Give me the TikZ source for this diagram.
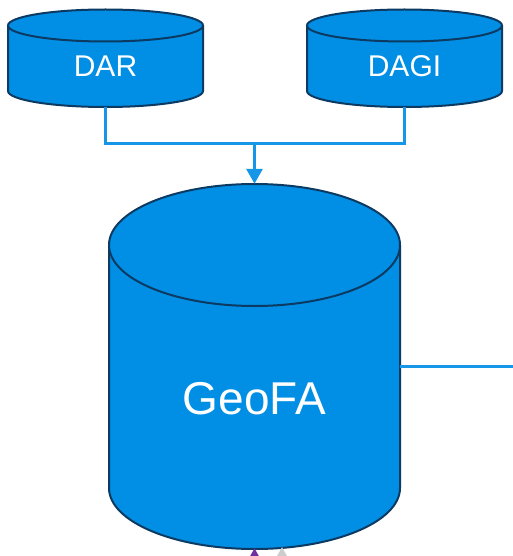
\documentclass[tikz,border=0pt]{standalone}
\usepackage{fontspec}
\setmainfont{Liberation Sans}
\usetikzlibrary{arrows.meta}
\definecolor{cylblue}{RGB}{0,143,229}
\definecolor{cylborder}{RGB}{12,58,98}
\definecolor{connblue}{RGB}{22,150,230}
\definecolor{arrpurple}{RGB}{112,48,160}
\definecolor{arrgray}{RGB}{205,205,205}
\tikzset{
  cylfill/.style={fill=cylblue},
  cylline/.style={draw=cylborder,line width=2pt},
  cylbox/.style={rectangle,inner sep=0pt,draw=none},
  cyltext/.style={text=white,inner sep=0pt},
  conn/.style={draw=connblue,line width=3pt},
  tip/.style={-{Triangle[width=16pt,length=15pt]}}
}
\newcommand\dbcyl[5]{%
  \fill[cylfill] (#1-#2,#3) rectangle (#1+#2,#4);
  \fill[cylfill] (#1,#4) ellipse[x radius=#2,y radius=#5];
  \draw[cylline] (#1-#2,#3) -- (#1-#2,#4) arc[start angle=180,end angle=0,x radius=#2,y radius=#5] -- (#1+#2,#3);
  \draw[cylline,cylfill] (#1,#3) ellipse[x radius=#2,y radius=#5];
}
\begin{document}
\begin{tikzpicture}[x=1pt,y=-1pt]
\useasboundingbox (0,0) rectangle (513,556);
\clip (0,0) rectangle (513,556);
% cylinders
\dbcyl{105.5}{97.5}{25.5}{91}{16}
\dbcyl{404.5}{97.5}{25.5}{91}{16}
\dbcyl{254.5}{145.5}{245}{488}{61}
\node[cylbox,minimum width=195pt,minimum height=97pt] (dar) at (105.5,58.5) {};
\node[cylbox,minimum width=195pt,minimum height=97pt] (dagi) at (404.5,58.5) {};
\node[cylbox,minimum width=291pt,minimum height=364pt] (geo) at (254.5,366) {};
\node[cyltext,font=\fontsize{30}{36}\selectfont] (dart) at (105.5,66.5) {DAR};
\node[cyltext,font=\fontsize{30}{36}\selectfont] (dagit) at (404.5,66.5) {DAGI};
\node[cyltext,font=\fontsize{46}{55}\selectfont] (geot) at (254.5,398.5) {GeoFA};
% connectors
\coordinate (join) at (254.5,144);
\coordinate (rightend) at (513,366);
\coordinate (purplefrom) at (254.5,600);
\coordinate (grayfrom) at (282,600);
\coordinate (graytip) at (282,547);
\draw[conn] (dar.south) |- (join);
\draw[conn] (dagi.south) |- (join);
\draw[conn,tip] (join) -- (geo.north);
\draw[conn] (geo.east) -- (rightend);
\draw[draw=arrpurple,line width=3pt,tip] (purplefrom) -- (geo.south);
\draw[draw=arrgray,line width=3pt,tip] (grayfrom) -- (graytip);
\end{tikzpicture}
\end{document}
